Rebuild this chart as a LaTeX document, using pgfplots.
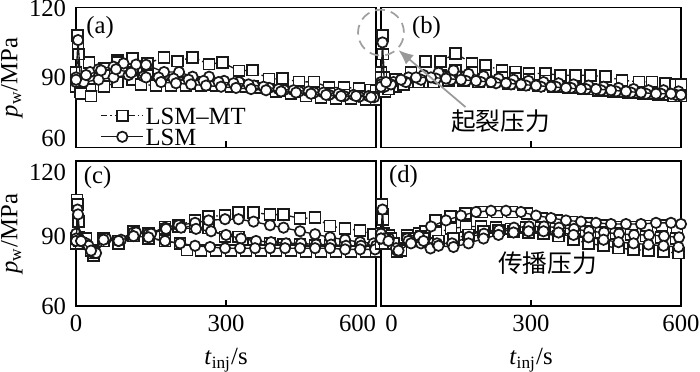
\documentclass[border=0pt]{standalone}
\usepackage{fontspec}
\setmainfont{Liberation Serif}
\newfontfamily\cjk{Noto Sans CJK SC}
\usepackage{pgfplots}
\pgfplotsset{compat=1.18}
\usetikzlibrary{arrows.meta}

\pgfplotsset{
  panel/.style={scale only axis, width=121.5pt, xmin=0, xmax=600, ymin=60, ymax=120,
    xtick={0,300,600}, ytick={60,90,120}, tick align=inside, tick pos=left,
    major tick length=2.5pt, axis line style={line width=0.6pt},
    every tick/.style={black, line width=0.6pt},
    /pgf/number format/assume math mode=true,
    ticklabel style={font=\fontsize{10}{12}\selectfont},
    yticklabel style={anchor=base east, yshift=-3.3pt, xshift=-0.5pt},
    label style={font=\fontsize{10}{12}\selectfont},
    ylabel style={at={(axis description cs:-0.214,0.5)}, anchor=center},
    clip mode=individual},
  mt/.style={black!90, line width=0.55pt, dash pattern=on 2.5pt off 1.2pt on 0.6pt off 1.2pt,
    mark=square*, mark size=2.2pt, mark options={solid, fill=white, line width=0.7pt}},
  lsm/.style={black!90, line width=0.55pt, solid,
    mark=*, mark size=2.1pt, mark options={solid, fill=white, line width=0.7pt}},
}

\begin{document}
\begin{tikzpicture}
\useasboundingbox (0,0) rectangle (283.5pt,150.3pt);

% ---------------- (a)
\begin{axis}[panel, at={(30.8pt,90.6pt)}, anchor=south west, height=56.7pt,
  xticklabels={}, yticklabels={\raisebox{3.7pt}{60},90,\raisebox{-0.5pt}{120}},
  ylabel={\textit{p}\textsubscript{w}/MPa},
  legend style={at={(rel axis cs:0.08,0.0)}, anchor=south west, draw=none, fill=none,
    inner sep=0pt, row sep=0.3pt, legend cell align=left,
    nodes={inner sep=0.6pt, text height=7pt, text depth=0pt, font=\fontsize{10}{10}\selectfont}}]
\addlegendimage{mt}\addlegendentry{LSM--MT}
\addlegendimage{lsm}\addlegendentry{LSM}
\addplot[mt] coordinates {(0,90)(3,108)(6,88)(26,96.5)(56,94)(83,97.4)(113,98.1)(143,96)(176,98.6)(203,97)(233,98.6)(266,95.7)(293,96.4)(326,92.8)(353,93.1)(386,89.3)(413,89.5)(446,88.1)(476,88.1)(506,85.7)(536,85.7)(566,85.3)(590,84.6)(600,84.5)};
\addplot[mt] coordinates {(0,86)(4,104)(8,84)(28,85)(56,91)(83,96.5)(113,92)(143,91)(176,88.5)(203,88)(233,87.5)(266,87)(293,87)(326,86.5)(353,86)(386,85)(413,84.5)(446,84)(476,83.5)(506,83)(536,82.5)(566,82)(590,81.5)(600,81.5)};
\addplot[mt] coordinates {(0,92)(5,100)(10,83)(30,82)(56,86)(83,88)(113,89)(130,87)(160,86.5)(190,86.5)(220,86.5)(250,86.5)(280,86.5)(310,86)(340,86)(370,85.5)(400,84)(430,83)(460,82)(490,81.5)(520,81)(550,81)(580,80.5)(600,80.5)};
\addplot[lsm] coordinates {(0,90)(4,106)(9,88)(28,92.3)(45,93.5)(75,94.6)(95,96)(120,95.5)(140,95.4)(176,92.3)(206,92.3)(233,90.3)(266,90.3)(296,88.5)(326,88)(356,86.5)(386,85.5)(416,84.6)(446,84)(476,83.5)(506,82.5)(536,82)(566,81.7)(596,81.5)};
\addplot[lsm] coordinates {(0,88)(15,88)(45,89)(75,90)(105,91)(135,90.5)(165,90)(195,89.5)(225,89)(255,88.5)(285,88)(315,87.5)(345,87)(375,86)(405,85)(435,84.5)(465,84)(495,83.5)(525,83)(555,82.5)(585,82)};
\addplot[lsm] coordinates {(0,89)(20,91)(50,93)(80,93.5)(110,92)(140,90)(170,88)(200,87.5)(230,87)(260,86.5)(290,86)(320,85.5)(350,85)(380,84.5)(410,84)(440,83.5)(470,83)(500,82.5)(530,82)(560,82)(590,81.5)};
\node[font=\fontsize{10}{12}\selectfont] at (axis cs:48,111.3) {(a)};
\end{axis}

% ---------------- (b)
\begin{axis}[panel, at={(154.3pt,90.6pt)}, anchor=south west, height=56.7pt,
  xticklabels={}, yticklabels={}]
\addplot[mt] coordinates {(0,92)(3,108)(6,90)(30,89)(60,92)(89,96.7)(119,96.7)(149,100.3)(182,96)(209,95)(242,93.1)(269,92.3)(296,91.7)(329,91.7)(359,90.9)(389,90.9)(419,90.9)(449,90.3)(482,88.8)(516,88.1)(542,88.1)(569,87.4)(589,87)(600,87)};
\addplot[mt] coordinates {(0,86)(4,100)(8,84)(30,86)(60,88)(89,88)(119,91)(149,93)(182,92)(209,91)(242,90)(269,89.5)(296,89)(329,88.5)(359,86)(389,85.5)(419,85)(449,84.5)(482,84)(516,83.5)(542,83)(569,82.5)(589,82)(600,82)};
\addplot[mt] coordinates {(0,90)(15,85)(45,87)(75,88)(105,88)(135,88.5)(165,88.5)(195,88)(225,88)(255,87.5)(285,87)(315,86.5)(345,86)(375,85.5)(405,85)(435,84.5)(465,84)(495,83.5)(525,83)(555,82.5)(585,82)};
\addplot[lsm] coordinates {(0,88)(3,105)(7,86)(25,88)(55,90)(85,91)(115,92)(145,93)(175,91.5)(205,90.5)(235,89.5)(265,89)(295,88.5)(325,88)(355,87.5)(385,87)(415,86.5)(445,86)(475,85.5)(505,85)(535,84.5)(565,84.5)(595,84)};
\addplot[lsm] coordinates {(0,87)(20,87)(50,88)(80,89)(110,89.5)(140,89)(170,88.5)(200,88)(230,87.5)(260,87)(290,86.5)(320,86)(350,86)(380,85.5)(410,85)(440,84.5)(470,84)(500,83.5)(530,83)(560,83)(590,82.5)};
\addplot[lsm] coordinates {(0,86)(10,88)(40,89)(70,90)(100,90)(130,89.5)(160,89)(190,88.5)(220,88)(250,87.5)(280,87)(310,86.5)(340,86)(370,85.5)(400,85)(430,85)(460,84.5)(490,84)(520,83.5)(550,83)(580,83)(600,82.5)};
\node[font=\fontsize{10}{12}\selectfont] at (axis cs:91,111.5) {(b)};
\draw[gray!75, line width=0.7pt, dash pattern=on 4pt off 2.5pt] (axis cs:0,109.2) circle [radius=9.3pt];
\draw[gray!80, line width=0.7pt, -{Latex[length=6pt,width=5pt]}] (axis cs:169,77.3) -- (axis cs:35,101.7);
\node[font=\cjk\fontsize{10}{12}\selectfont] at (axis cs:239,71.3) {起裂压力};
\end{axis}

% ---------------- (c)
\begin{axis}[panel, at={(30.8pt,26.3pt)}, anchor=south west, height=58.7pt,
  xticklabels={0,300,\makebox[0pt][r]{600}},
  yticklabels={60,\raisebox{-1.2pt}{90},\raisebox{-4.5pt}{120}},
  ylabel={\textit{p}\textsubscript{w}/MPa}, xlabel={\textit{t}\textsubscript{inj}/s}]
\addplot[mt] coordinates {(0,88)(2,104)(5,88.7)(15,88)(35,81.1)(55,88)(85,86.4)(115,90.8)(145,89.4)(178,92.8)(205,93.5)(238,95.6)(265,97)(298,97.7)(325,98.8)(355,98.8)(388,97.9)(415,97.9)(448,96.3)(478,96.6)(508,93.2)(538,92.1)(568,91.4)(595,89.8)};
\addplot[mt] coordinates {(0,86)(3,102)(6,87)(20,88)(35,82)(55,88)(85,87)(115,91)(145,90)(178,92)(205,93)(238,93)(265,92.3)(298,88.7)(325,88.7)(355,85.9)(388,85.9)(415,85.5)(448,85.5)(478,85)(508,85)(538,84.5)(568,84.5)(595,84)};
\addplot[mt] coordinates {(0,88)(5,95)(10,86)(30,83)(55,87)(85,86)(115,89)(145,88)(178,87)(208,85.9)(222,83.2)(250,83)(280,83)(310,83)(340,83)(370,83)(400,83)(430,83)(460,82.5)(490,82.5)(520,82.5)(550,82.5)(580,82.5)(600,82.5)};
\addplot[lsm] coordinates {(0,90)(3,100)(6,88)(20,86)(35,82)(55,88)(85,87)(115,90.5)(145,90)(178,92.5)(205,93.5)(238,94.5)(265,95.5)(298,96)(325,96)(355,95)(388,93.5)(415,92.5)(448,91)(478,89.8)(508,88.5)(538,87.5)(568,86.5)(595,86)};
\addplot[lsm] coordinates {(0,88)(4,98)(8,87)(25,85)(40,82)(60,88)(90,87.5)(120,90.5)(150,90)(180,92)(210,92.5)(240,92)(270,91)(300,89.5)(330,88)(360,87)(390,86.5)(420,86)(450,86)(480,85.5)(510,85.5)(540,85)(570,85)(600,85)};
\addplot[lsm] coordinates {(0,87)(10,87)(30,83)(55,87.5)(85,87)(115,89)(145,88.5)(178,87)(208,86)(238,85)(268,84.5)(298,84)(328,84)(358,84)(388,84)(418,84)(448,84)(478,84)(508,84)(538,83.5)(568,83.5)(598,83.5)};
\node[font=\fontsize{10}{12}\selectfont] at (axis cs:43,113.2) {(c)};
\end{axis}

% ---------------- (d)
\begin{axis}[panel, at={(154.3pt,26.3pt)}, anchor=south west, height=58.7pt,
  xticklabels={\makebox[0pt][l]{\hspace{1.8pt}0},300,600},
  yticklabels={}, xlabel={\textit{t}\textsubscript{inj}/s}]
\addplot[mt] coordinates {(0,88)(2,102)(5,90)(16,89.4)(32,82.5)(52,89.4)(76,90)(89,91)(109,95.6)(139,97)(169,98.4)(202,99)(232,99)(262,99)(292,98.4)(322,96.3)(352,95.6)(382,94.9)(412,94.2)(442,93.5)(472,92.8)(502,92.8)(532,93.2)(562,93.5)(592,92.8)};
\addplot[mt] coordinates {(0,86)(3,98)(7,88)(20,88)(35,84)(55,88)(80,89)(110,90.5)(140,92)(170,93)(200,93)(230,92.5)(260,92)(290,92.5)(320,92.5)(350,92)(380,91.5)(410,91)(440,90.5)(470,90)(500,89.5)(530,89)(560,88.5)(590,88)};
\addplot[mt] coordinates {(0,90)(4,96)(8,86)(25,86)(40,83)(60,87)(85,88)(115,87)(145,88)(175,89.5)(205,91)(235,91.5)(265,91)(295,90.5)(325,90)(355,89)(385,87.5)(415,86)(445,85)(475,84)(505,83.5)(535,83)(565,82.5)(595,82)};
\addplot[lsm] coordinates {(0,90)(3,100)(6,88)(16,88)(32,83)(52,88)(76,89)(100,93)(130,95.5)(160,97.5)(190,99)(220,99.5)(250,99.5)(280,99)(310,97.5)(340,96.5)(370,95.5)(400,95)(430,94.5)(460,94)(490,94)(520,94)(550,94.5)(580,94.5)(600,94)};
\addplot[lsm] coordinates {(0,88)(10,88)(30,84)(55,87)(80,86)(99,83.9)(112,86)(142,86)(176,88.7)(206,90)(236,91.5)(266,92.5)(296,93)(326,93)(356,92.5)(386,92)(416,91)(446,90.5)(476,90)(506,89.5)(536,89.5)(566,89)(596,88.5)};
\addplot[lsm] coordinates {(0,88)(15,87)(35,83)(60,86)(85,87)(115,85)(145,84.5)(175,86)(205,88)(235,89.5)(265,90.5)(295,91)(325,91)(355,90.5)(385,89.5)(415,88.5)(445,87.5)(475,86.5)(505,86)(535,85.5)(565,85)(595,84.5)};
\node[font=\fontsize{10}{12}\selectfont] at (axis cs:45,113.6) {(d)};
\node[font=\cjk\fontsize{10}{12}\selectfont] at (axis cs:333,77.8) {传播压力};
\end{axis}
\end{tikzpicture}
\end{document}
